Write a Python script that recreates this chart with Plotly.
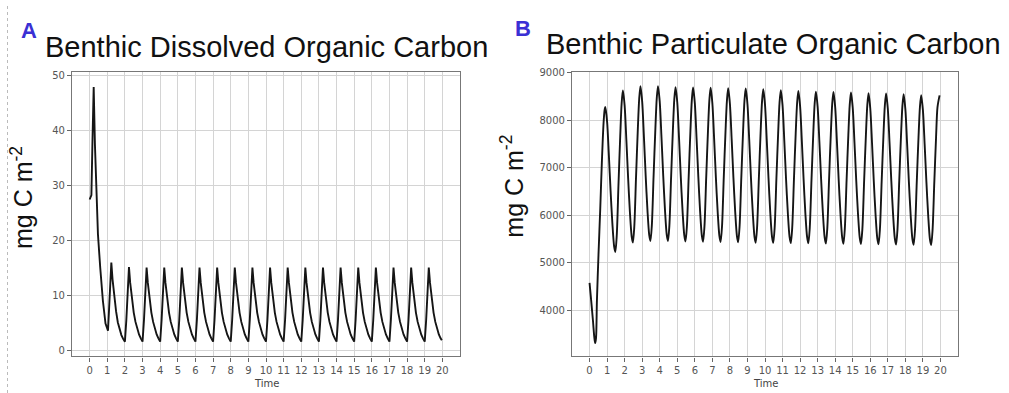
import plotly.graph_objects as go

W, H = 1009, 393

# ---------------- DATA ----------------
years = list(range(0, 21))
time_ticks = list(range(0, 21))
doc_yticks = [0, 10, 20, 30, 40, 50]
poc_yticks = [4000, 5000, 6000, 7000, 8000, 9000]

# Benthic dissolved organic carbon (mg C m-2)
doc_start_t = [0.0, 0.05, 0.1, 0.16, 0.23, 0.3, 0.38, 0.47, 0.6, 0.75, 0.9, 1.04,
               1.1, 1.17, 1.23, 1.3, 1.42, 1.5, 1.6, 1.7, 1.8, 1.9]
doc_start_v = [27.5, 27.8, 28.3, 38.0, 48.0, 37.5, 27.5, 21.2, 15.1, 9.1, 4.9, 3.6,
               7.4, 11.8, 16.0, 12.9, 9.1, 7.1, 5.1, 3.8, 2.8, 2.1]
doc_cycle_offsets = [0.0, 0.08, 0.16, 0.23, 0.3, 0.4, 0.5, 0.6, 0.7, 0.8, 0.9]
doc_cycle_years = list(range(2, 20))
doc_cycle_values = [
    [1.6, 5.5, 10.5, 15.2, 12.3, 9.2, 6.9, 5.2, 3.9, 2.9, 2.2],   # 2
    [1.6, 5.5, 10.5, 15.1, 12.3, 9.2, 6.9, 5.2, 3.9, 2.9, 2.2],   # 3
    [1.6, 5.5, 10.5, 15.1, 12.3, 9.2, 6.9, 5.2, 3.9, 2.9, 2.2],   # 4
    [1.6, 5.5, 10.5, 15.1, 12.3, 9.2, 6.9, 5.2, 3.9, 2.9, 2.2],   # 5
    [1.6, 5.5, 10.5, 15.1, 12.3, 9.2, 6.9, 5.2, 3.9, 2.9, 2.2],   # 6
    [1.6, 5.5, 10.5, 15.1, 12.3, 9.2, 6.9, 5.2, 3.9, 2.9, 2.2],   # 7
    [1.6, 5.5, 10.5, 15.1, 12.3, 9.2, 6.9, 5.2, 3.9, 2.9, 2.2],   # 8
    [1.6, 5.5, 10.5, 15.1, 12.3, 9.2, 6.9, 5.2, 3.9, 2.9, 2.2],   # 9
    [1.6, 5.5, 10.5, 15.1, 12.3, 9.2, 6.9, 5.2, 3.9, 2.9, 2.2],   # 10
    [1.6, 5.5, 10.5, 15.1, 12.3, 9.2, 6.9, 5.2, 3.9, 2.9, 2.2],   # 11
    [1.6, 5.5, 10.5, 15.1, 12.3, 9.2, 6.9, 5.2, 3.9, 2.9, 2.2],   # 12
    [1.6, 5.5, 10.5, 15.1, 12.3, 9.2, 6.9, 5.2, 3.9, 2.9, 2.2],   # 13
    [1.6, 5.5, 10.5, 15.1, 12.3, 9.2, 6.9, 5.2, 3.9, 2.9, 2.2],   # 14
    [1.6, 5.5, 10.5, 15.1, 12.3, 9.2, 6.9, 5.2, 3.9, 2.9, 2.2],   # 15
    [1.6, 5.5, 10.5, 15.1, 12.3, 9.2, 6.9, 5.2, 3.9, 2.9, 2.2],   # 16
    [1.6, 5.5, 10.5, 15.1, 12.3, 9.2, 6.9, 5.2, 3.9, 2.9, 2.2],   # 17
    [1.6, 5.5, 10.5, 15.1, 12.3, 9.2, 6.9, 5.2, 3.9, 2.9, 2.2],   # 18
    [1.6, 5.5, 10.5, 15.1, 12.3, 9.2, 6.9, 5.2, 3.9, 2.9, 2.2],   # 19
]
doc_end_t = [19.97]
doc_end_v = [1.85]

# Benthic particulate organic carbon (mg C m-2)
poc_start_t = [0.0, 0.1, 0.2, 0.27, 0.32, 0.37, 0.42, 0.51, 0.61, 0.7, 0.8, 0.86, 0.9]
poc_start_v = [4580, 4180, 3760, 3440, 3310, 3420, 4200, 5170, 6140, 7100, 7950, 8220, 8280]
poc_cycle_offsets = [0.0, 0.1, 0.2, 0.3, 0.4, 0.47, 0.55, 0.65, 0.75, 0.83, 0.9]
poc_cycle_years = list(range(1, 20))
poc_cycle_values = [
    [7975, 7275, 6510, 5840, 5350, 5230, 5570, 6660, 7680, 8360, 8630],  # 1
    [8310, 7575, 6775, 6070, 5560, 5430, 5760, 6810, 7800, 8455, 8720],  # 2
    [8395, 7645, 6830, 6110, 5590, 5460, 5785, 6830, 7805, 8460, 8720],  # 3
    [8395, 7645, 6830, 6110, 5590, 5460, 5785, 6820, 7795, 8440, 8700],  # 4
    [8375, 7630, 6815, 6100, 5580, 5450, 5775, 6810, 7785, 8430, 8690],  # 5
    [8365, 7620, 6810, 6095, 5575, 5445, 5770, 6805, 7780, 8425, 8685],  # 6
    [8360, 7615, 6805, 6090, 5570, 5440, 5765, 6800, 7770, 8415, 8675],  # 7
    [8350, 7605, 6795, 6085, 5565, 5435, 5760, 6795, 7765, 8410, 8670],  # 8
    [8345, 7600, 6790, 6075, 5555, 5425, 5750, 6780, 7750, 8395, 8655],  # 9
    [8330, 7590, 6780, 6065, 5550, 5420, 5740, 6770, 7735, 8380, 8635],  # 10
    [8315, 7570, 6765, 6060, 5545, 5415, 5735, 6760, 7725, 8365, 8620],  # 11
    [8300, 7560, 6760, 6050, 5540, 5410, 5730, 6750, 7710, 8350, 8605],  # 12
    [8285, 7550, 6750, 6045, 5535, 5405, 5725, 6745, 7705, 8345, 8600],  # 13
    [8280, 7545, 6745, 6040, 5530, 5400, 5720, 6740, 7695, 8330, 8585],  # 14
    [8265, 7530, 6735, 6035, 5525, 5395, 5715, 6730, 7680, 8315, 8570],  # 15
    [8250, 7520, 6725, 6025, 5515, 5390, 5710, 6725, 7675, 8310, 8565],  # 16
    [8245, 7515, 6720, 6020, 5510, 5385, 5700, 6715, 7665, 8295, 8550],  # 17
    [8235, 7505, 6710, 6015, 5505, 5380, 5695, 6705, 7650, 8280, 8530],  # 18
    [8215, 7490, 6700, 6005, 5495, 5375, 5690, 6700, 7645, 8275, 8525],  # 19
]
poc_last_offset = 0.95  # final sample of the last year

titles = ["Benthic Dissolved Organic Carbon", "Benthic Particulate Organic Carbon"]
panel_letters = ["A", "B"]
y_label = "mg C m<sup>-2</sup>"
x_label = "Time"

# ---------------- BUILD SERIES ----------------
doc_t = list(doc_start_t)
doc_v = list(doc_start_v)
for yr, vals in zip(doc_cycle_years, doc_cycle_values):
    doc_t += [round(yr + o, 3) for o in doc_cycle_offsets]
    doc_v += vals
doc_t += doc_end_t
doc_v += doc_end_v

poc_t = list(poc_start_t)
poc_v = list(poc_start_v)
for yr, vals in zip(poc_cycle_years, poc_cycle_values):
    offs = list(poc_cycle_offsets)
    if yr == poc_cycle_years[-1]:
        offs[-1] = poc_last_offset
    poc_t += [round(yr + o, 3) for o in offs]
    poc_v += vals


def px(x):
    return x / W


def py(y):
    return 1 - y / H


fig = go.Figure()
fig.add_trace(go.Scatter(x=doc_t, y=doc_v, mode="lines", xaxis="x", yaxis="y",
                         line=dict(color="#151515", width=1.9), showlegend=False,
                         hoverinfo="skip"))
fig.add_trace(go.Scatter(x=poc_t, y=poc_v, mode="lines", xaxis="x2", yaxis="y2",
                         line=dict(color="#151515", width=1.9, shape="spline", smoothing=0.8),
                         showlegend=False, hoverinfo="skip"))

tickfont = dict(family="DejaVu Sans", size=10, color="#555555")
common_x = dict(range=[-1, 21], tickmode="array", tickvals=time_ticks,
                ticktext=[str(v) for v in time_ticks], ticks="outside", ticklen=4,
                tickcolor="#666666", showline=True, linecolor="#777777", linewidth=1.2,
                mirror=True, showgrid=True, gridcolor="#d4d4d4", gridwidth=1,
                zeroline=False, tickfont=tickfont)
common_y = dict(ticks="outside", ticklen=4, tickcolor="#666666", showline=True,
                linecolor="#777777", linewidth=1.2, mirror=True, showgrid=True,
                gridcolor="#d4d4d4", gridwidth=1, zeroline=False, tickfont=tickfont,
                tickmode="array")

fig.update_layout(
    width=W, height=H, margin=dict(l=0, r=0, t=0, b=0),
    paper_bgcolor="white", plot_bgcolor="white",
    xaxis=dict(domain=[px(72), px(460)], anchor="y", **common_x),
    yaxis=dict(domain=[py(356), py(68)], anchor="x", range=[-1.1, 50.7],
               tickvals=doc_yticks, ticktext=[str(v) for v in doc_yticks], **common_y),
    xaxis2=dict(domain=[px(572), px(958)], anchor="y2", **common_x),
    yaxis2=dict(domain=[py(356), py(68)], anchor="x2", range=[3030, 9015],
                tickvals=poc_yticks, ticktext=[str(v) for v in poc_yticks], **common_y),
)

title_font = dict(family="Liberation Sans, Arial", size=29, color="#111111")
letter_font = dict(family="Liberation Sans, Arial", size=22, color="#3a30d4")
ylab_font = dict(family="Liberation Sans, Arial", size=25, color="#111111")
xlab_font = dict(family="DejaVu Sans", size=10, color="#444444")

ann = [
    dict(text=titles[0], x=px(266), y=py(42.5), font=title_font),
    dict(text=titles[1], x=px(773), y=py(39), font=title_font),
    dict(text="<b>" + panel_letters[0] + "</b>", x=px(29), y=py(25.5), font=letter_font),
    dict(text="<b>" + panel_letters[1] + "</b>", x=px(523), y=py(23.5), font=letter_font),
    dict(text=y_label, x=px(21.5), y=py(195), font=ylab_font, textangle=-90),
    dict(text=y_label, x=px(512), y=py(184), font=ylab_font, textangle=-90),
    dict(text=x_label, x=px(266), y=py(383), font=xlab_font),
    dict(text=x_label, x=px(765), y=py(383), font=xlab_font),
]
for a in ann:
    fig.add_annotation(xref="paper", yref="paper", showarrow=False,
                       xanchor="center", yanchor="middle", **a)

fig.add_shape(type="line", xref="paper", yref="paper", x0=px(7.5), x1=px(7.5),
              y0=0, y1=1, line=dict(color="#bbbbbb", width=1, dash="dot"))

fig.write_html("out.html")
